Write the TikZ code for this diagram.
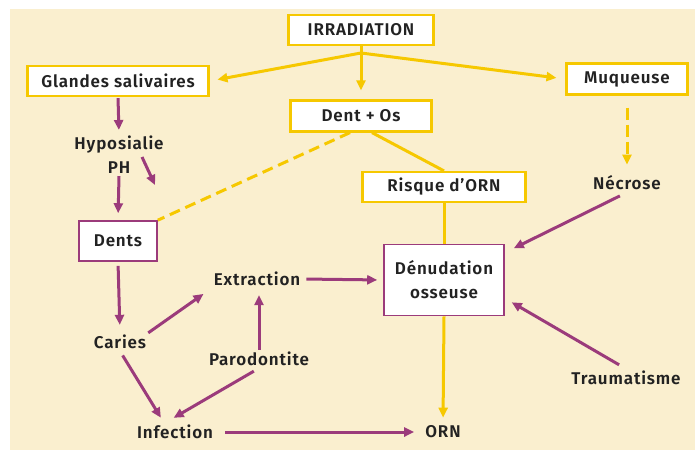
\documentclass[tikz,border=0pt]{standalone}
\usepackage{fontspec}
\setmainfont{Fira Sans}[LetterSpace=5, BoldFont={Fira Sans SemiBold}]
\usetikzlibrary{arrows.meta}
\definecolor{creme}{HTML}{FAEFCF}
\definecolor{jaune}{HTML}{F6C800}
\definecolor{violet}{HTML}{9B3B7B}
\definecolor{encre}{HTML}{222222}
\tikzset{
    txt/.style={text=encre, font=\bfseries\fontsize{17}{24}\selectfont},
    ybox/.style={txt, draw=jaune, line width=2.2pt, fill=white, inner sep=0pt},
    pbox/.style={txt, draw=violet, line width=1.6pt, fill=white, inner sep=0pt, align=center},
    lbl/.style={txt, inner sep=2pt, align=center},
    yline/.style={draw=jaune, line width=3pt},
    yfl/.style={yline, -{Triangle[length=10pt,width=9pt]}},
    pfl/.style={draw=violet, line width=3pt, -{Triangle[length=10pt,width=9pt]}}
}

\begin{document}
\begin{tikzpicture}[x=1pt,y=-1pt]
    \useasboundingbox (0,0) rectangle (695,450);
    \fill[creme] (10,9) rectangle (695,450);
    % boites
    \node[ybox, minimum width=145pt, minimum height=30pt] (irr) at (361,30) {IRRADIATION};
    \node[ybox, minimum width=181pt, minimum height=30pt] (gland) at (118,81) {Glandes salivaires};
    \node[ybox, minimum width=121pt, minimum height=31pt] (muq) at (627,79) {Muqueuse};
    \node[ybox, minimum width=141pt, minimum height=31pt] (dentos) at (361,116) {Dent + Os};
    \node[ybox, minimum width=163pt, minimum height=30pt] (risque) at (444,187) {Risque d’ORN};
    \node[pbox, minimum width=78pt, minimum height=40pt] (dents) at (118,241) {Dents};
    \node[pbox, minimum width=120pt, minimum height=71pt] (denud) at (444,280) {Dénudation\\osseuse};
    % textes
    \node[lbl] (hypo) at (119,155) {Hyposialie\\PH};
    \node[lbl] (necrose) at (627,183) {Nécrose};
    \node[lbl] (extr) at (257,279) {Extraction};
    \node[lbl] (caries) at (120,342) {Caries};
    \node[lbl] (paro) at (259,359) {Parodontite};
    \node[lbl] (infect) at (175,432) {Infection};
    \node[lbl] (trauma) at (626,378) {Traumatisme};
    \node[lbl] (orn) at (443,432) {ORN};
    \coordinate (fork) at (361,53);
    \coordinate (phA) at (142,157);
    \coordinate (phB) at (155,185);
    % fleches jaunes
    \draw[yline] (irr.south) -- (fork);
    \draw[yfl, shorten >=8pt] (fork) -- (gland.east);
    \draw[yfl, shorten >=9pt] (fork) -- (muq.west);
    \draw[yfl, shorten >=9pt] (fork) -- (dentos.north);
    \draw[yline] ([xshift=11pt]dentos.south) -- (risque.north);
    \draw[yline, dash pattern=on 11pt off 6pt] ([xshift=-11pt]dentos.south) -- (dents.north east);
    \draw[yfl, dash pattern=on 12pt off 5pt, shorten <=12pt, shorten >=9pt] (muq.south) -- (necrose.north);
    \draw[yline] (risque.south) -- (denud.north);
    \draw[yfl, shorten >=6pt] (denud.south) -- (orn.north);
    % fleches violettes
    \draw[pfl, shorten <=1pt, shorten >=4pt] (gland.south) -- (hypo.north);
    \draw[pfl, shorten >=7pt] (hypo.south) -- (dents.north);
    \draw[pfl] (phA) -- (phB);
    \draw[pfl, shorten <=4pt, shorten >=8pt] (dents.south) -- (caries.north);
    \draw[pfl, shorten >=10pt] (caries.north east) -- (extr.south west);
    \draw[pfl, shorten <=5pt, shorten >=6pt] (caries.south) -- ([xshift=-11pt]infect.north);
    \draw[pfl, shorten >=7pt] (paro.north) -- (paro.north |- extr.south);
    \draw[pfl, shorten <=6pt, shorten >=10pt] (paro.south) -- ([xshift=-10pt]infect.north);
    \draw[pfl, shorten <=4pt, shorten >=6pt] (extr.east) -- (denud.west);
    \draw[pfl, shorten <=10pt, shorten >=9pt] (infect.east) -- (orn.west);
    \draw[pfl, shorten <=8pt, shorten >=10pt] (necrose.south) -- ([yshift=-9pt]denud.north east);
    \draw[pfl, shorten <=8pt, shorten >=8pt] (trauma.north) -- ([yshift=18pt]denud.south east);
\end{tikzpicture}
\end{document}
